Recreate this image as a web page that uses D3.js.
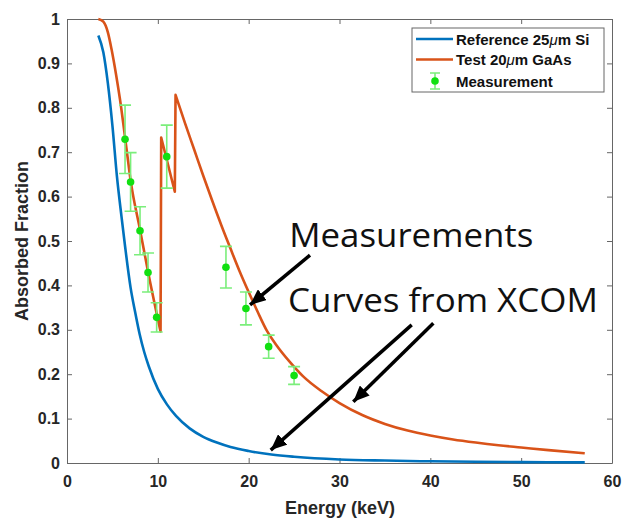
<!DOCTYPE html>
<html>
<head>
<meta charset="utf-8">
<script src="https://cdn.jsdelivr.net/npm/d3@7"></script>
<style>
  body { margin: 0; background: #fff; }
  svg { display: block; }
</style>
</head>
<body>
<div id="chart"></div>
<script>
// reference 25um Si curve
const refEnergy = [3.45, 4.0, 4.5, 5.0, 5.5, 6.0, 6.4, 7.0, 7.5, 8.0, 8.5, 9.0, 10.0, 11.0, 12.0, 13.5, 15, 16.5, 18, 20, 22.5, 25, 30, 35, 40, 45, 50, 57];
const refFrac   = [0.963, 0.925, 0.855, 0.76, 0.645, 0.555, 0.487, 0.395, 0.34, 0.29, 0.25, 0.218, 0.167, 0.132, 0.106, 0.078, 0.059, 0.046, 0.036, 0.027, 0.019, 0.014, 0.008, 0.0055, 0.0038, 0.0027, 0.002, 0.0014];

// test 20um GaAs curve; the two near-equal energies mark the Ga and As K-edges
const testEnergy = [3.45, 4.0, 4.5, 4.92, 5.4, 5.84, 6.57, 7.0, 8.04, 8.96, 10.3,
                    10.37, 11.87,
                    11.95, 13, 14, 15, 16, 17, 18, 19, 20, 21, 22, 23, 24.6, 26, 28, 30, 32.5, 35, 37.5, 40, 42.5, 45, 47.5, 50, 53, 57];
const testFrac   = [1.0, 0.994, 0.97, 0.93, 0.875, 0.818, 0.705, 0.637, 0.525, 0.427, 0.296,
                    0.733, 0.611,
                    0.829, 0.765, 0.706, 0.647, 0.59, 0.535, 0.483, 0.432, 0.385, 0.34, 0.298, 0.267, 0.226, 0.195, 0.162, 0.135, 0.108, 0.088, 0.073, 0.062, 0.053, 0.046, 0.04, 0.035, 0.029, 0.022];

// measurements with error bars
const measEnergy = [6.39, 7.0, 8.04, 8.92, 9.87, 10.98, 17.5, 19.7, 22.2, 25.0];
const measFrac   = [0.729, 0.633, 0.523, 0.429, 0.328, 0.69, 0.441, 0.348, 0.262, 0.197];
const measErr    = [0.077, 0.066, 0.054, 0.044, 0.033, 0.071, 0.047, 0.037, 0.026, 0.02];

const xTicks = [0, 10, 20, 30, 40, 50, 60];
const yTicks = [0, 0.1, 0.2, 0.3, 0.4, 0.5, 0.6, 0.7, 0.8, 0.9, 1];

const legendLabels = ["Reference 25", "Test 20", "Measurement"];

// annotations in data units
const noteTexts = ["Measurements", "Curves from XCOM"];
const notePos = [[24.47, 0.486], [24.33, 0.34]];
const noteWidth = [244, 310];
const arrows = [
    [[26.75, 0.468], [20.15, 0.356]],
    [[37.95, 0.311], [22.43, 0.029]],
    [[40.33, 0.315], [31.52, 0.138]]
];

const W = 625, H = 518;
const blue = "#0072BD", orange = "#D95319", green = "#11e011", barGreen = "#7bee7b";
const axisCol = "#666", textCol = "#262626";

const svg = d3.select("#chart").append("svg")
    .attr("width", W).attr("height", H);

const x = d3.scaleLinear().domain([0, 60]).range([67, 612]);
const y = d3.scaleLinear().domain([0, 1]).range([463, 19]);

// box + ticks
function styleAxis(g, labels) {
    g.select(".domain").attr("stroke", axisCol).attr("stroke-width", 1);
    g.selectAll(".tick line").attr("stroke", axisCol);
    g.selectAll("text")
        .attr("fill", textCol)
        .style("font-family", "'Liberation Sans', Arial, sans-serif")
        .style("font-weight", "bold")
        .style("font-size", "16px");
    if (!labels) g.selectAll("text").remove();
}

svg.append("g")
    .attr("transform", `translate(0,${y(0)})`)
    .call(d3.axisBottom(x).tickValues(xTicks).tickSize(-5).tickSizeOuter(0).tickPadding(13).tickFormat(d3.format("d")))
    .call(g => styleAxis(g, true));
svg.append("g")
    .attr("transform", `translate(0,${y(1)})`)
    .call(d3.axisTop(x).tickValues(xTicks).tickSize(-5).tickSizeOuter(0))
    .call(g => styleAxis(g, false));
svg.append("g")
    .attr("transform", `translate(${x(0)},0)`)
    .call(d3.axisLeft(y).tickValues(yTicks).tickSize(-5).tickSizeOuter(0).tickPadding(7)
        .tickFormat(d => d === 0 || d === 1 ? d3.format("d")(d) : d3.format(".1f")(d)))
    .call(g => styleAxis(g, true));
svg.append("g")
    .attr("transform", `translate(${x(60)},0)`)
    .call(d3.axisRight(y).tickValues(yTicks).tickSize(-5).tickSizeOuter(0))
    .call(g => styleAxis(g, false));

// axis titles
svg.append("text")
    .attr("x", 340).attr("y", 514)
    .attr("text-anchor", "middle")
    .attr("fill", textCol)
    .style("font-family", "'Liberation Sans', Arial, sans-serif")
    .style("font-weight", "bold").style("font-size", "18px")
    .text("Energy (keV)");
svg.append("text")
    .attr("transform", "translate(28,241) rotate(-90)")
    .attr("text-anchor", "middle")
    .attr("fill", textCol)
    .style("font-family", "'Liberation Sans', Arial, sans-serif")
    .style("font-weight", "bold").style("font-size", "18px")
    .text("Absorbed Fraction");

// curves
const smooth = d3.line().x(d => x(d[0])).y(d => y(d[1])).curve(d3.curveMonotoneX);
svg.append("path")
    .datum(d3.zip(refEnergy, refFrac))
    .attr("fill", "none").attr("stroke", blue).attr("stroke-width", 2.6)
    .attr("stroke-linejoin", "round")
    .attr("d", smooth);

// split the GaAs curve at the absorption edges, smooth each piece, join with straight jumps
const testPts = d3.zip(testEnergy, testFrac);
const segs = [[]];
testPts.forEach((p, i) => {
    if (i > 0 && p[0] - testPts[i - 1][0] < 0.1) segs.push([]);
    segs[segs.length - 1].push(p);
});
const testPath = segs.map((s, i) => {
    const d = smooth(s);
    return i === 0 ? d : "L" + d.slice(1);
}).join("");
svg.append("path")
    .attr("fill", "none").attr("stroke", orange).attr("stroke-width", 2.6)
    .attr("stroke-linejoin", "round")
    .attr("d", testPath);

// measurements
const meas = d3.zip(measEnergy, measFrac, measErr);
const mg = svg.append("g");
mg.selectAll(".eb").data(meas).join("path")
    .attr("fill", "none").attr("stroke", barGreen).attr("stroke-width", 1.6)
    .attr("d", d => {
        const cx = x(d[0]), t = y(d[1] + d[2]), b = y(d[1] - d[2]);
        return `M${cx},${t}V${b}M${cx - 6},${t}H${cx + 6}M${cx - 6},${b}H${cx + 6}`;
    });
mg.selectAll("circle").data(meas).join("circle")
    .attr("cx", d => x(d[0])).attr("cy", d => y(d[1])).attr("r", 3.8)
    .attr("fill", green);

// legend
const lg = svg.append("g").attr("transform", "translate(412,28)");
lg.append("rect").attr("width", 192).attr("height", 64)
    .attr("fill", "#fff").attr("stroke", axisCol).attr("stroke-width", 1);
const rows = [11, 31.5, 53];
[blue, orange].forEach((c, i) => {
    lg.append("line").attr("x1", 4).attr("x2", 41).attr("y1", rows[i]).attr("y2", rows[i])
        .attr("stroke", c).attr("stroke-width", 2.6);
});
lg.append("path").attr("fill", "none").attr("stroke", barGreen).attr("stroke-width", 1.6)
    .attr("d", `M23,${rows[2] - 8}V${rows[2] + 8}M18,${rows[2] - 8}H28M18,${rows[2] + 8}H28`);
lg.append("circle").attr("cx", 23).attr("cy", rows[2]).attr("r", 3.8).attr("fill", green);
const lt = lg.selectAll(".lt").data(legendLabels).join("text")
    .attr("x", 44).attr("y", (d, i) => rows[i] + 5.5)
    .attr("fill", "#111")
    .style("font-family", "'Liberation Sans', Arial, sans-serif")
    .style("font-weight", "bold").style("font-size", "15px");
lt.each(function (d, i) {
    const t = d3.select(this);
    t.append("tspan").text(d);
    if (i < 2) {
        t.append("tspan").style("font-style", "italic").style("font-weight", "normal").text("\u03bc");
        t.append("tspan").text(i === 0 ? "m Si" : "m GaAs");
    }
});

// annotations
svg.append("defs").append("marker")
    .attr("id", "head").attr("markerUnits", "userSpaceOnUse")
    .attr("viewBox", "0 0 16 14").attr("refX", 16).attr("refY", 7)
    .attr("markerWidth", 16).attr("markerHeight", 14).attr("orient", "auto")
    .append("path").attr("d", "M0,0L16,7L0,14Z").attr("fill", "#000");
svg.selectAll(".arrow").data(arrows).join("line")
    .attr("x1", d => x(d[0][0])).attr("y1", d => y(d[0][1]))
    .attr("x2", d => x(d[1][0])).attr("y2", d => y(d[1][1]))
    .attr("stroke", "#000").attr("stroke-width", 3.5)
    .attr("marker-end", "url(#head)");
svg.selectAll(".note").data(noteTexts).join("text")
    .attr("x", (d, i) => x(notePos[i][0])).attr("y", (d, i) => y(notePos[i][1]))
    .attr("textLength", (d, i) => noteWidth[i])
    .attr("lengthAdjust", "spacingAndGlyphs")
    .attr("fill", "#111")
    .style("font-family", "'Open Sans', 'Noto Sans', sans-serif")
    .style("font-size", "33px")
    .text(d => d);
</script>
</body>
</html>
